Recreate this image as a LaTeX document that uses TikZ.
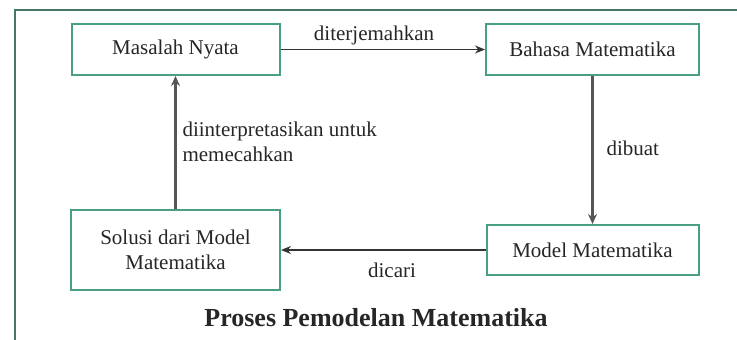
\documentclass[tikz,border=0pt]{standalone}
\usepackage{fontspec}
\setmainfont{Liberation Serif}
\usetikzlibrary{arrows.meta}
\definecolor{boxgreen}{RGB}{72,160,128}
\definecolor{framegreen}{RGB}{70,120,100}
\definecolor{linegray}{RGB}{85,85,85}
\begin{document}
\begin{tikzpicture}[x=1pt,y=-1pt]
\tikzstyle{every node}=[font=\fontsize{21}{25}\selectfont, text=black!85]
\tikzstyle{kotak}=[draw=boxgreen, line width=2pt, fill=white, inner sep=2pt, align=center]
\tikzstyle{panah}=[draw=black!80, line width=1.3pt, -{Stealth[length=10pt,width=8pt]}]
\tikzstyle{panahtebal}=[draw=linegray, line width=2.4pt, -{Stealth[length=10pt,width=9pt]}]
	\useasboundingbox (0,0) rectangle (737,340);
	\draw[framegreen, line width=2pt] (15,340) to (15,10) to (737,10);

	\node[kotak, minimum width=208pt, minimum height=51pt] (masalah) at (175.5,49.5) {Masalah Nyata};
	\node[kotak, minimum width=213pt, minimum height=51pt] (bahasa) at (592.5,49.5) {Bahasa Matematika};
	\node[kotak, minimum width=212pt, minimum height=50pt] (model) at (592.5,250) {Model Matematika};
	\node[kotak, minimum width=209pt, minimum height=80pt] (solusi) at (175.5,250) {Solusi dari Model\\Matematika};

	\draw[panah] (masalah.east) to (bahasa.west);
	\draw[panahtebal] (bahasa.south) to (model.north);
	\draw[panah] (model.west) to (solusi.east);
	\draw[panahtebal] (solusi.north) to (masalah.south);

	\node (lblterjemah) at (374,35) {diterjemahkan};
	\node[anchor=west] (lbldibuat) at (603,148) {dibuat};
	\node (lblcari) at (392,270) {dicari};
	\node[anchor=west, align=left] (lblinterp) at (179,142) {diinterpretasikan untuk\\memecahkan};

	\node[font=\bfseries\fontsize{26}{30}\selectfont] (judul) at (376,318) {Proses Pemodelan Matematika};
\end{tikzpicture}
\end{document}
